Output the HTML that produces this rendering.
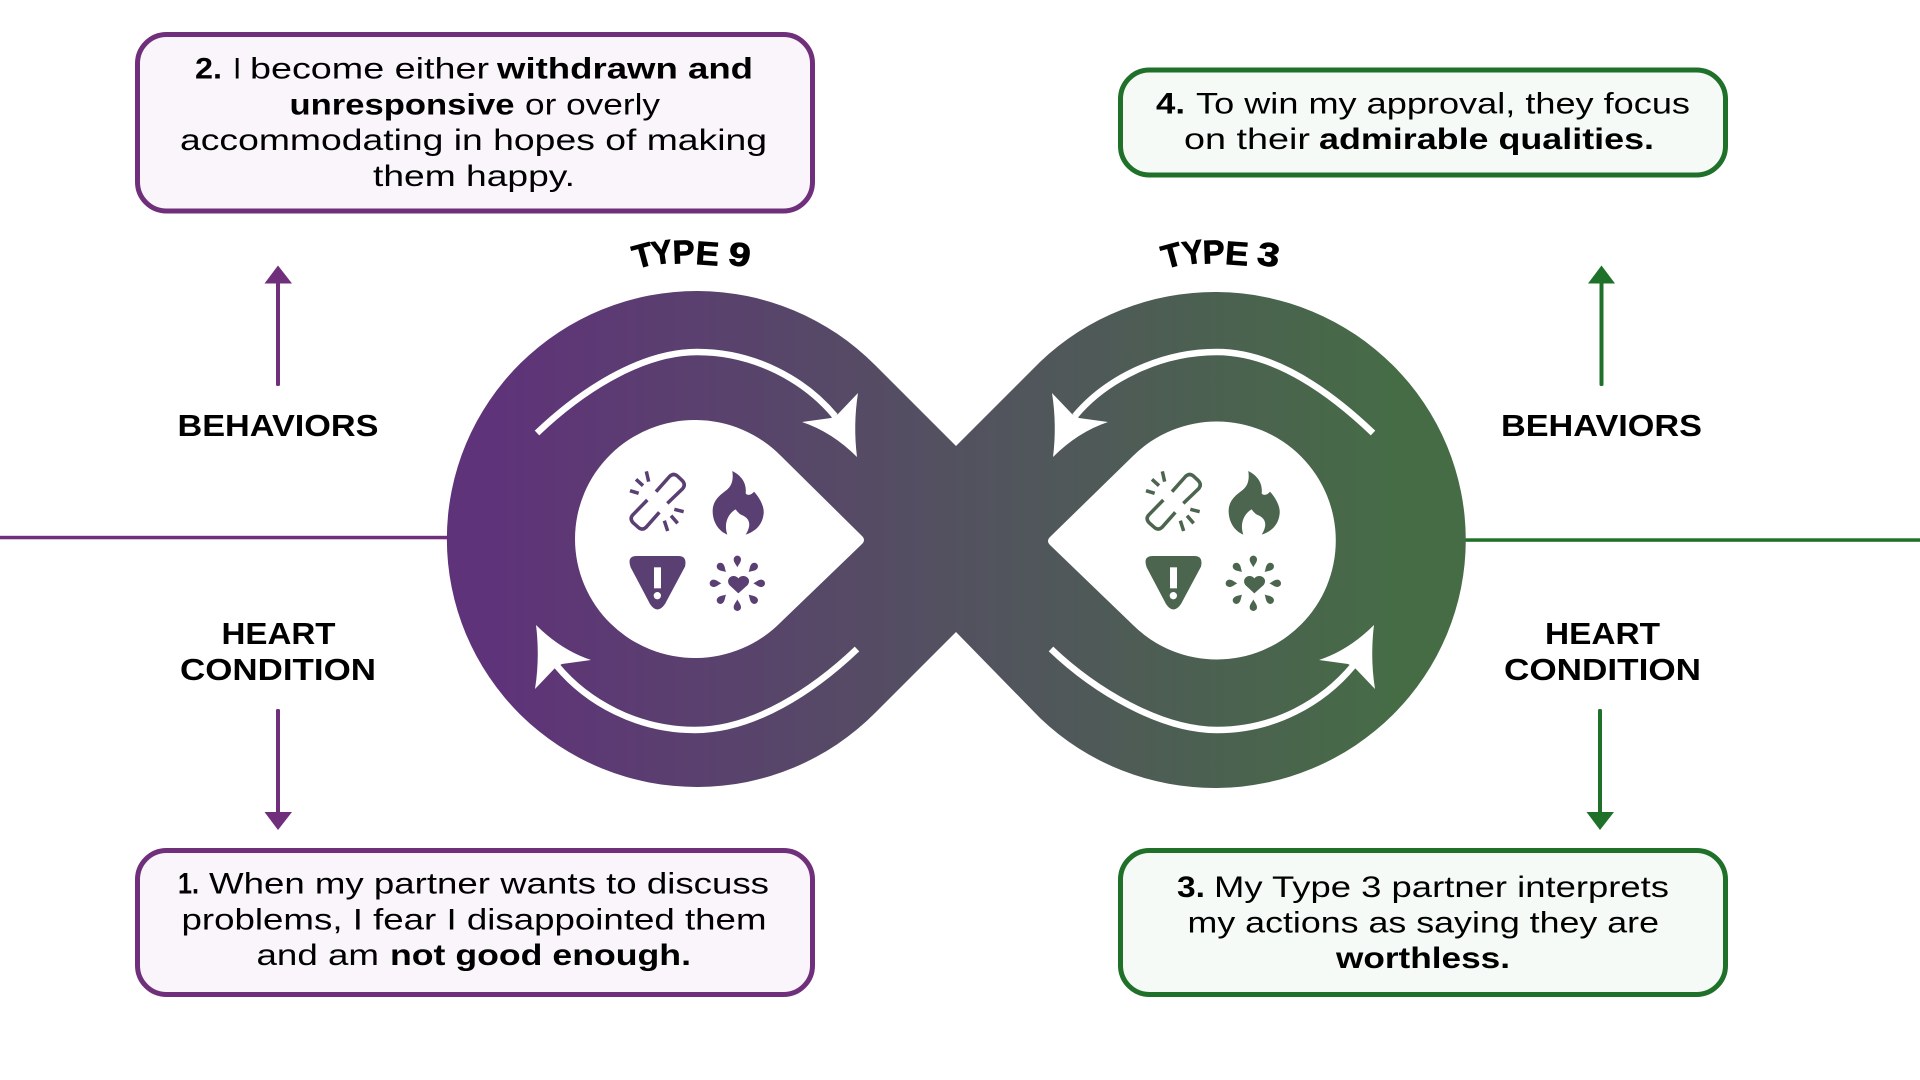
<!DOCTYPE html>
<html lang="en">
<head>
<meta charset="utf-8">
<title>Type 9 and Type 3 cycle</title>
<style>
html,body{margin:0;padding:0;background:#fff;width:1920px;height:1080px;overflow:hidden}
svg{display:block}
text{font-family:"Liberation Sans",sans-serif;fill:#000;font-size:30px}
.b{font-weight:700}
.h{font-weight:700;font-size:31px}
.t{font-weight:700;font-size:33px;stroke:#000;stroke-width:.8px}
</style>
</head>
<body>
<svg width="1920" height="1080" viewBox="0 0 1920 1080" xmlns="http://www.w3.org/2000/svg">
<defs>
<linearGradient id="g" gradientUnits="userSpaceOnUse" x1="500" y1="0" x2="1400" y2="0">
<stop offset="0" stop-color="#5f3379"/>
<stop offset=".5" stop-color="#535160"/>
<stop offset="1" stop-color="#466c46"/>
</linearGradient>
<g id="icons" transform="translate(570 450) scale(.33333)">
<g fill="none" stroke="currentColor" stroke-width="10.5">
<path d="M258,125 L298,80 Q310,68 322,78 L337,92 Q348,104 338,116 L292,160"/>
<path d="M232,150 L188,195 Q178,207 190,219 L206,233 Q217,242 228,232 L268,187"/>
<path d="M180,122 L206,130 M198,88 L219,107 M229,64 L236,95 M313,178 L341,185 M303,197 L323,220 M283,212 L293,243"/>
</g>
<path fill="currentColor" d="M487,63 C520,80 530,105 527,130 C532,138 545,135 552,125 C570,145 583,170 581,190 C578,225 555,245 527,254 C545,225 540,205 515,195 C505,190 497,178 497,178 C475,190 460,220 472,254 C445,243 427,215 428,180 C430,150 450,135 470,120 C488,105 490,85 487,63Z"/>
<path fill="currentColor" d="M200,318 H325 Q352,318 345,350 L285,462 Q262,495 240,462 L182,352 Q170,318 200,318Z"/>
<rect x="252" y="352" width="21" height="63" fill="#fff"/>
<circle cx="262" cy="437" r="11" fill="#fff"/>
<path fill="currentColor" d="M505,430 L478,405 C465,385 490,368 505,385 C520,368 548,385 533,405Z"/>
<g fill="currentColor">
<path transform="translate(502 400) translate(0 -65)" d="M0,17 C-4,8 -11,2 -11,-7 A11,11 0 0 1 11,-7 C11,2 4,8 0,17Z"/>
<path transform="translate(502 400) rotate(45) translate(0 -65)" d="M0,17 C-4,8 -11,2 -11,-7 A11,11 0 0 1 11,-7 C11,2 4,8 0,17Z"/>
<path transform="translate(502 400) rotate(90) translate(0 -65)" d="M0,17 C-4,8 -11,2 -11,-7 A11,11 0 0 1 11,-7 C11,2 4,8 0,17Z"/>
<path transform="translate(502 400) rotate(135) translate(0 -65)" d="M0,17 C-4,8 -11,2 -11,-7 A11,11 0 0 1 11,-7 C11,2 4,8 0,17Z"/>
<path transform="translate(502 400) rotate(180) translate(0 -65)" d="M0,17 C-4,8 -11,2 -11,-7 A11,11 0 0 1 11,-7 C11,2 4,8 0,17Z"/>
<path transform="translate(502 400) rotate(225) translate(0 -65)" d="M0,17 C-4,8 -11,2 -11,-7 A11,11 0 0 1 11,-7 C11,2 4,8 0,17Z"/>
<path transform="translate(502 400) rotate(270) translate(0 -65)" d="M0,17 C-4,8 -11,2 -11,-7 A11,11 0 0 1 11,-7 C11,2 4,8 0,17Z"/>
<path transform="translate(502 400) rotate(315) translate(0 -65)" d="M0,17 C-4,8 -11,2 -11,-7 A11,11 0 0 1 11,-7 C11,2 4,8 0,17Z"/>
</g>
</g>
</defs>

<!-- horizontal lines -->
<rect x="0" y="535.8" width="450" height="3.5" fill="#6f2f7b"/>
<rect x="1460" y="538.3" width="460" height="3.5" fill="#1f7029"/>

<!-- infinity -->
<path fill="url(#g)" d="M956,446 L875,365 A250,248 0 1 0 875,713 L956,632 L1040,718 A251,248 0 1 0 1040,362 Z"/>
<path fill="#fff" d="M862,536 L781,456 A120,119 0 1 0 781,622 L862,544 Q866,540 862,536Z"/>
<path fill="#fff" d="M1050,537 L1133,456 A119,119 0 1 1 1133,625 L1050,545 Q1046,541 1050,537Z"/>

<!-- white curved arrows -->
<g fill="none" stroke="#fff" stroke-width="6.5">
<path d="M537,433 C580,392 640,352 697,352 C755,352 805,380 835,416"/>
<path d="M857,649 C814,690 754,730 695,730 C637,730 587,702 557,666"/>
<path d="M1373,433 C1330,392 1274,352 1217,352 C1159,352 1105,380 1075,416"/>
<path d="M1051,649 C1094,690 1160,730 1217,730 C1275,730 1323,702 1353,666"/>
</g>
<g fill="#fff">
<path d="M858,393 L838,414 L831,418 L802,422 Q832,432 857,457 Q853,425 858,393Z"/>
<path d="M535,689 L555,668 L562,664 L591,660 Q561,650 536,625 Q540,657 535,689Z"/>
<path d="M1052,393 L1072,414 L1079,418 L1108,422 Q1078,432 1053,457 Q1057,425 1052,393Z"/>
<path d="M1375,689 L1355,668 L1348,664 L1319,660 Q1349,650 1374,625 Q1370,657 1375,689Z"/>
</g>

<!-- icons -->
<use href="#icons" style="color:#5a3f72"/>
<use href="#icons" transform="translate(516 0)" style="color:#4b654e"/>

<!-- boxes -->
<rect x="137.5" y="34.5" width="675" height="176.5" rx="29" fill="#f9f5fb" stroke="#6f2f7b" stroke-width="5"/>
<rect x="137.5" y="850.5" width="675" height="144" rx="29" fill="#f9f5fb" stroke="#6f2f7b" stroke-width="5"/>
<rect x="1120.5" y="70" width="605" height="105" rx="29" fill="#f5faf6" stroke="#1f7029" stroke-width="5"/>
<rect x="1120.5" y="850.5" width="605" height="144" rx="29" fill="#f5faf6" stroke="#1f7029" stroke-width="5"/>

<!-- box 2 -->
<text class="b" x="195" y="78.5" textLength="27" lengthAdjust="spacingAndGlyphs">2.</text>
<text x="233" y="78.5">I</text>
<text x="250" y="78.5" textLength="239" lengthAdjust="spacingAndGlyphs">become either</text>
<text class="b" x="497" y="78.5" textLength="256" lengthAdjust="spacingAndGlyphs">withdrawn and</text>
<text class="b" x="289.5" y="114.3" textLength="225" lengthAdjust="spacingAndGlyphs">unresponsive</text>
<text x="525" y="114.3" textLength="135" lengthAdjust="spacingAndGlyphs">or overly</text>
<text x="180" y="150" textLength="587" lengthAdjust="spacingAndGlyphs">accommodating in hopes of making</text>
<text x="373" y="186" textLength="202" lengthAdjust="spacingAndGlyphs">them happy.</text>

<!-- box 1 -->
<text class="b" x="178" y="893.3" textLength="21" lengthAdjust="spacingAndGlyphs">1.</text>
<text x="209" y="893.3" textLength="560" lengthAdjust="spacingAndGlyphs">When my partner wants to discuss</text>
<text x="181.5" y="929.3" textLength="585" lengthAdjust="spacingAndGlyphs">problems, I fear I disappointed them</text>
<text x="256.5" y="965" textLength="122.5" lengthAdjust="spacingAndGlyphs">and am</text>
<text class="b" x="390" y="965" textLength="301" lengthAdjust="spacingAndGlyphs">not good enough.</text>

<!-- box 4 -->
<text class="b" x="1156" y="113.5" textLength="29" lengthAdjust="spacingAndGlyphs">4.</text>
<text x="1196" y="113.5" textLength="494" lengthAdjust="spacingAndGlyphs">To win my approval, they focus</text>
<text x="1184" y="149" textLength="126" lengthAdjust="spacingAndGlyphs">on their</text>
<text class="b" x="1319" y="149" textLength="335" lengthAdjust="spacingAndGlyphs">admirable qualities.</text>

<!-- box 3 -->
<text class="b" x="1177" y="897" textLength="28" lengthAdjust="spacingAndGlyphs">3.</text>
<text x="1214" y="897" textLength="455" lengthAdjust="spacingAndGlyphs">My Type 3 partner interprets</text>
<text x="1187.5" y="932.7" textLength="471.5" lengthAdjust="spacingAndGlyphs">my actions as saying they are</text>
<text class="b" x="1336" y="968" textLength="174" lengthAdjust="spacingAndGlyphs">worthless.</text>

<!-- labels -->
<text class="h" x="177.5" y="436" textLength="201" lengthAdjust="spacingAndGlyphs">BEHAVIORS</text>
<text class="h" x="1501" y="436" textLength="201" lengthAdjust="spacingAndGlyphs">BEHAVIORS</text>
<text class="h" x="221.5" y="644" textLength="114" lengthAdjust="spacingAndGlyphs">HEART</text>
<text class="h" x="180" y="680" textLength="196" lengthAdjust="spacingAndGlyphs">CONDITION</text>
<text class="h" x="1545" y="644" textLength="115" lengthAdjust="spacingAndGlyphs">HEART</text>
<text class="h" x="1504" y="680" textLength="197" lengthAdjust="spacingAndGlyphs">CONDITION</text>

<!-- TYPE 9 -->
<text class="t" transform="translate(636 269) rotate(-15)">T</text>
<text class="t" transform="translate(653 265) rotate(-8) scale(.95 1)">Y</text>
<text class="t" transform="translate(673 263.6) rotate(-2)">P</text>
<text class="t" transform="translate(695 264) rotate(4) scale(1.06 1)">E</text>
<text class="t" transform="translate(727 264) rotate(9) scale(1.2 1)">9</text>
<!-- TYPE 3 -->
<text class="t" transform="translate(1165 269) rotate(-15)">T</text>
<text class="t" transform="translate(1184 265) rotate(-8) scale(.95 1)">Y</text>
<text class="t" transform="translate(1203 263.6) rotate(-2)">P</text>
<text class="t" transform="translate(1224.5 264) rotate(4) scale(1.06 1)">E</text>
<text class="t" transform="translate(1256 264) rotate(9) scale(1.2 1)">3</text>

<!-- straight arrows -->
<g fill="#6f2f7b">
<rect x="276" y="280" width="4" height="106" rx="1.5"/>
<path d="M278,265.5 L292,283.5 H264.5Z"/>
<rect x="276" y="709" width="4" height="106" rx="1.5"/>
<path d="M278,830 L292,812 H264.5Z"/>
</g>
<g fill="#1f7029">
<rect x="1599.5" y="280" width="4" height="106" rx="1.5"/>
<path d="M1601.5,265.5 L1615,283.5 H1588Z"/>
<rect x="1598" y="709" width="4" height="106" rx="1.5"/>
<path d="M1600,830 L1614,812 H1586.5Z"/>
</g>
</svg>
</body>
</html>
